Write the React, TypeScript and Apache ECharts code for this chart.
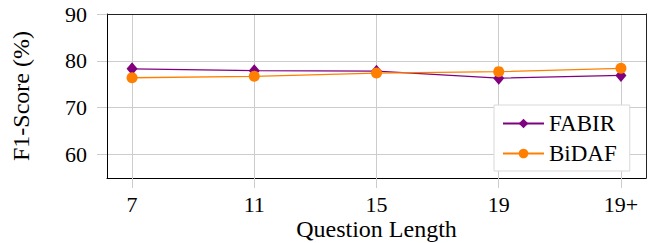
import React, { useEffect, useRef } from "react";
import * as echarts from "echarts";

const categories = ["7", "11", "15", "19", "19+"];
const fabir = [78.3, 77.9, 77.8, 76.3, 76.9];
const bidaf = [76.4, 76.7, 77.4, 77.7, 78.4];
const yTicks = [60, 70, 80, 90];
const xTickIdx = [0, 1, 2, 3, 4];

const FONT = "Liberation Serif, Times New Roman, serif";
const PURPLE = "#800080";
const ORANGE = "#ff8000";
const GRID_GRAY = "#cccccc";

export default function App() {
  const ref = useRef<HTMLDivElement>(null);
  useEffect(() => {
    if (!ref.current) return;
    const chart = echarts.init(ref.current, undefined, { renderer: "svg" });
    const pad = 0.205;
    chart.setOption({
      animation: false,
      backgroundColor: "#ffffff",
      grid: [{ left: 107, top: 14, width: 539, height: 164, containLabel: false, outerBoundsMode: "none" }],
      xAxis: [
        {
          type: "value", min: -pad, max: categories.length - 1 + pad, position: "bottom",
          axisLine: { show: true, onZero: false, lineStyle: { color: "#000", width: 1 } },
          axisTick: { show: true, inside: false, length: 10, customValues: xTickIdx, lineStyle: { color: GRID_GRAY, width: 1 } },
          axisLabel: {
            show: true, margin: 15, customValues: xTickIdx, fontFamily: FONT, fontSize: 22, color: "#000",
            formatter: (v: number) => categories[Math.round(v)] ?? "",
          },
          splitLine: { show: true, lineStyle: { color: GRID_GRAY, width: 1 } },
          name: "Question Length", nameLocation: "middle", nameGap: 39, nameMoveOverlap: false,
          nameTextStyle: { fontFamily: FONT, fontSize: 24, color: "#000" },
        },
        {
          type: "value", min: -pad, max: categories.length - 1 + pad, position: "top",
          axisLine: { show: true, onZero: false, lineStyle: { color: "#222", width: 1 } },
          axisTick: { show: false }, axisLabel: { show: false }, splitLine: { show: false },
        },
      ],
      yAxis: [
        {
          type: "value", min: 55, max: 90, position: "left",
          axisLine: { show: true, onZero: false, lineStyle: { color: "#000", width: 1 } },
          axisTick: { show: true, inside: false, length: 10, customValues: yTicks, lineStyle: { color: GRID_GRAY, width: 1 } },
          axisLabel: { show: true, margin: 20, customValues: yTicks, fontFamily: FONT, fontSize: 22, color: "#000" },
          splitLine: { show: true, lineStyle: { color: GRID_GRAY, width: 1 } },
          name: "F1-Score (%)", nameLocation: "middle", nameGap: 74, nameMoveOverlap: false,
          nameTextStyle: { fontFamily: FONT, fontSize: 24, color: "#000" },
        },
        {
          type: "value", min: 55, max: 90, position: "right",
          axisLine: { show: true, onZero: false, lineStyle: { color: "#222", width: 1 } },
          axisTick: { show: false }, axisLabel: { show: false }, splitLine: { show: false },
        },
      ],
      legend: {
        show: true,
        orient: "vertical",
        left: 494,
        top: 105,
        padding: [6, 13, 5, 8],
        itemWidth: 41,
        itemHeight: 12,
        itemGap: 5,
        backgroundColor: "#ffffff",
        borderColor: "#d9d9d9",
        borderWidth: 1,
        textStyle: { fontFamily: FONT, fontSize: 23, color: "#000", lineHeight: 25, padding: [0, 0, 0, 0] },
        data: ["FABIR", "BiDAF"],
      },
      series: [
        {
          name: "FABIR", type: "line", xAxisIndex: 0, yAxisIndex: 0,
          data: fabir.map((v, i) => [i, v]),
          symbol: "diamond", symbolSize: [11, 13], showSymbol: true,
          lineStyle: { color: PURPLE, width: 1.3 }, itemStyle: { color: PURPLE },
          z: 3,
        },
        {
          name: "BiDAF", type: "line", xAxisIndex: 0, yAxisIndex: 0,
          data: bidaf.map((v, i) => [i, v]),
          symbol: "circle", symbolSize: 11, showSymbol: true,
          lineStyle: { color: ORANGE, width: 1.3 }, itemStyle: { color: ORANGE },
          z: 4,
        },
      ],
    });
    return () => chart.dispose();
  }, []);
  return (
    <div
      ref={ref}
      style={{ position: "fixed", left: 0, top: 0, width: 652, height: 243, background: "#fff" }}
    />
  );
}
